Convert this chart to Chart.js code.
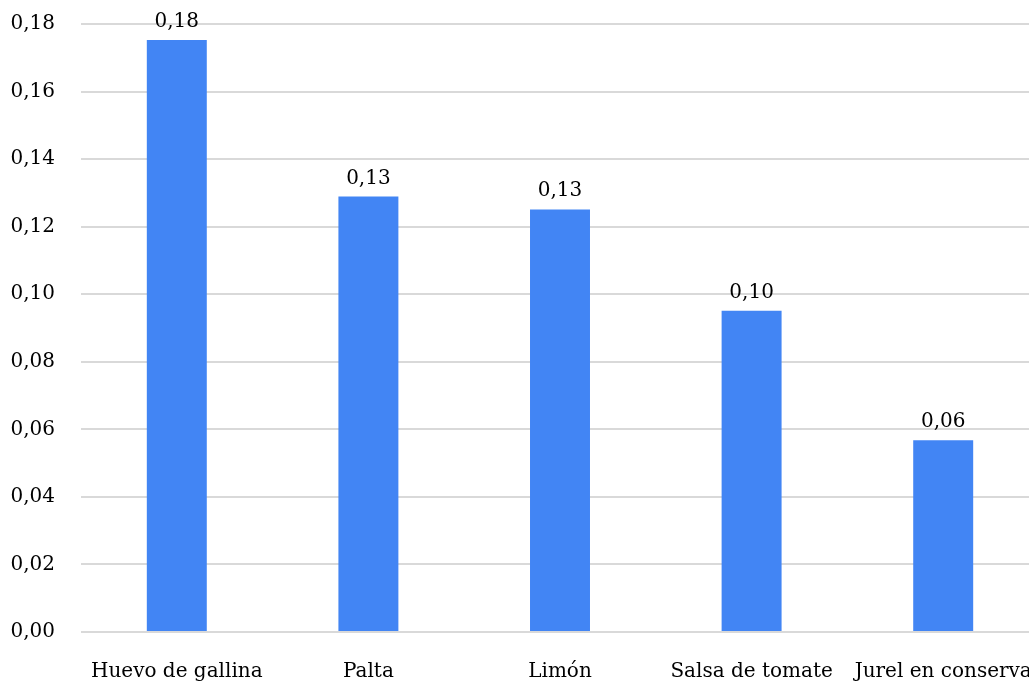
<!DOCTYPE html>
<html lang="es">
<head>
  <meta charset="UTF-8" />
  <title>Alimentos</title>
  <script src="https://cdn.jsdelivr.net/npm/chart.js"></script>
  <style>
    html, body { margin: 0; padding: 0; overflow: hidden; background: #fff; }
    canvas { display: block; }
  </style>
</head>
<body>
  <canvas id="foodChart" width="1040" height="700"></canvas>

  <script>
    const categories = ["Huevo de gallina", "Palta", "Limón", "Salsa de tomate", "Jurel en conserva"];
    const values = [0.1753, 0.1289, 0.1251, 0.0951, 0.0568];
    const yTicks = [0, 0.02, 0.04, 0.06, 0.08, 0.10, 0.12, 0.14, 0.16, 0.18];

    const fmt = v => v.toFixed(2).replace('.', ',');
    const font = { family: "'DejaVu Serif', serif", size: 20 };

    // labels above each bar
    const barLabels = {
      id: 'barLabels',
      afterDatasetsDraw(chart) {
        const ctx = chart.ctx;
        ctx.save();
        ctx.font = `${font.size}px ${font.family}`;
        ctx.fillStyle = '#000';
        ctx.textAlign = 'center';
        ctx.textBaseline = 'alphabetic';
        chart.getDatasetMeta(0).data.forEach((bar, i) => {
          ctx.fillText(fmt(values[i]), bar.x, bar.y - 13);
        });
        ctx.restore();
      }
    };

    const ctx = document.getElementById('foodChart').getContext('2d');
    new Chart(ctx, {
      type: 'bar',
      data: {
        labels: categories,
        datasets: [{
          data: values,
          backgroundColor: '#4285F4',
          categoryPercentage: 1,
          barPercentage: 0.313
        }]
      },
      options: {
        responsive: false,
        animation: false,
        layout: { padding: { top: 24, right: 1, left: 0, bottom: 0 } },
        plugins: { legend: { display: false }, tooltip: { enabled: false } },
        scales: {
          x: {
            grid: { display: false },
            border: { display: false },
            ticks: { color: '#000', font: font, padding: 20, maxRotation: 0, autoSkip: false },
            afterFit: s => { s.height = 68; s.paddingLeft = 0; s.paddingRight = 0; }
          },
          y: {
            min: 0,
            max: 0.18,
            afterBuildTicks: s => { s.ticks = yTicks.map(v => ({ value: v })); },
            grid: { color: '#d9d9d9', lineWidth: 2, drawTicks: false },
            border: { display: false },
            ticks: { color: '#000', font: font, padding: 26, callback: v => fmt(v) },
            afterFit: s => { s.width = 81; s.paddingTop = 0; s.paddingBottom = 0; }
          }
        }
      },
      plugins: [barLabels]
    });
  </script>
</body>
</html>
